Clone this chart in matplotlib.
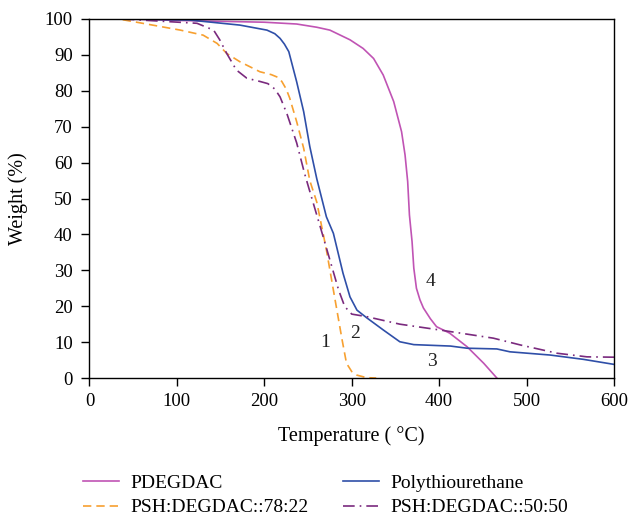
import matplotlib.pyplot as plt

plt.rcParams['font.family'] = ['Liberation Serif', 'DejaVu Serif']

# PDEGDAC
t_pdeg = [40, 100, 200, 237, 260, 275, 298, 313, 325, 336, 348, 357, 361, 364,
          366, 369, 371, 374, 378, 382, 390, 397, 412, 432, 451, 466]
w_pdeg = [100, 99.6, 99.1, 98.6, 97.7, 96.9, 94.2, 91.8, 89.0, 84.4, 77.0, 68.6,
          62.1, 54.7, 45.4, 38.0, 30.6, 25.0, 21.8, 19.5, 16.5, 14.3, 12.5, 8.7, 4.1, 0]

# Polythiourethane
t_pth = [40, 115, 172, 203, 212, 218, 223, 228, 237, 245, 252, 260, 271, 279, 290, 298,
         306, 317, 336, 355, 371, 413, 432, 466, 481, 527, 565, 600]
w_pth = [100, 99.7, 98.3, 96.9, 95.9, 94.6, 93.0, 90.9, 82.5, 74.2, 64.5, 55.5, 44.9, 40.3,
         29.2, 22.6, 18.9, 16.8, 13.4, 10.1, 9.3, 8.9, 8.3, 8.1, 7.3, 6.4, 5.2, 3.8]

# PSH:DEGDAC::78:22
t_78 = [38, 104, 130, 146, 157, 172, 195, 208, 215, 220, 225, 229, 237, 245, 252, 260,
        271, 281, 289, 294, 300, 306, 317, 328]
w_78 = [99.8, 96.9, 95.5, 93.2, 90.4, 88.1, 85.3, 84.5, 83.8, 82.6, 80.5, 78.0, 71.4, 64.0,
        55.0, 49.0, 35.7, 21.7, 10.6, 4.1, 1.8, 0.8, 0.1, 0]

# PSH:DEGDAC::50:50
t_50 = [38, 123, 142, 149, 157, 168, 180, 195, 204, 212, 218, 226, 237, 246, 252, 264,
        275, 285, 292, 300, 317, 355, 403, 462, 493, 535, 569, 600]
w_50 = [100, 98.8, 96.9, 94.2, 90.4, 85.8, 83.5, 82.6, 82.0, 80.5, 78.3, 73.5, 65.5, 57.0,
        52.0, 42.1, 32.9, 24.5, 19.9, 17.8, 17.1, 15.0, 13.3, 11.1, 9.2, 6.9, 5.9, 5.8]

labels = ['1', '2', '3', '4']
label_xy = [(270, 9.8), (304, 12.3), (392, 4.5), (390, 27)]

fig = plt.figure(figsize=(6.32, 5.16), dpi=100)
ax = fig.add_axes([0.1416, 0.2674, 0.8299, 0.6958])

l1, = ax.plot(t_pdeg, w_pdeg, color='#c054b4', lw=1.2, label='PDEGDAC')
l2, = ax.plot(t_78, w_78, color='#f7a030', lw=1.2, ls=(0, (5, 3)),
              label='PSH:DEGDAC::78:22')
l3, = ax.plot(t_pth, w_pth, color='#2f4fa8', lw=1.2, label='Polythiourethane')
l4, = ax.plot(t_50, w_50, color='#7a2a7e', lw=1.2, ls=(0, (7, 3, 1, 3)),
              label='PSH:DEGDAC::50:50')

for s, (x, y) in zip(labels, label_xy):
    ax.text(x, y, s, fontsize=14, color='#222222', ha='center', va='center')

ax.set_xlim(0, 600)
ax.set_ylim(0, 100)
ax.set_xticks(range(0, 601, 100))
ax.set_yticks(range(0, 101, 10))
ax.tick_params(direction='out', length=6, width=1, labelsize=13.5,
               top=False, right=False)
ax.tick_params(axis='y', pad=6)
ax.tick_params(axis='x', pad=5)
ax.set_xlabel('Temperature ( °C)', fontsize=14.5)
ax.set_ylabel('Weight (%)', fontsize=14.5)
ax.xaxis.set_label_coords(0.5, -0.134)
ax.yaxis.set_label_coords(-0.117, 0.5)
for sp in ax.spines.values():
    sp.set_linewidth(1)

fig.legend(handles=[l1, l2, l3, l4], ncol=2, loc='center left',
           bbox_to_anchor=(0.104, 0.040), frameon=False, fontsize=14,
           handlelength=1.85, columnspacing=1.75, labelspacing=0.35,
           handletextpad=0.6)

fig.savefig('out.png', dpi=100)
